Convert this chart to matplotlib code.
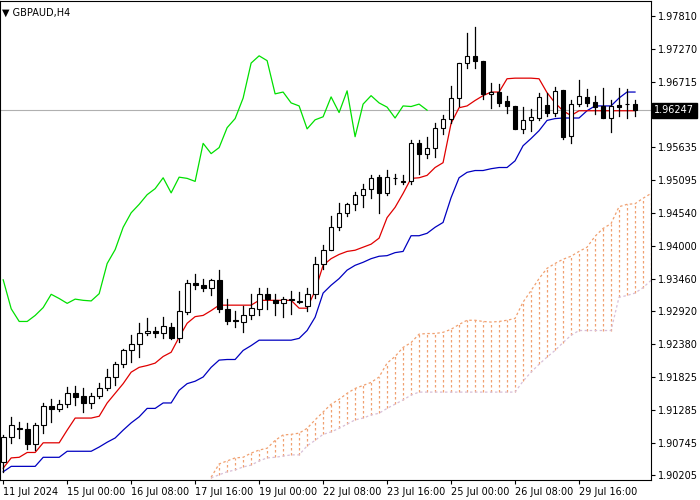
import matplotlib
matplotlib.use("Agg")
import matplotlib.pyplot as plt
import numpy as np

opens = [1.9042,1.9084,1.9097,1.9097,1.9072,1.9104,1.9135,1.9130,1.9138,1.9157,
         1.9152,1.9140,1.9152,1.9165,1.9183,1.9204,1.9227,1.9237,1.9256,1.9260,
         1.9256,1.9265,1.9247,1.9291,1.9338,1.9335,1.9331,1.9344,1.9296,1.9277,
         1.9274,1.9285,1.9296,1.9320,1.9310,1.9305,1.9313,1.9308,1.9300,1.9321,
         1.9371,1.9393,1.9431,1.9455,1.9469,1.9485,1.9495,1.9514,1.9487,1.9513,
         1.9506,1.9507,1.9570,1.9553,1.9563,1.9596,1.9611,1.9645,1.9703,1.9715,
         1.9707,1.9652,1.9655,1.9640,1.9632,1.9594,1.9609,1.9612,1.9634,1.9621,
         1.9658,1.9582,1.9635,1.9647,1.9639,1.9632,1.9612,1.9634,1.9636,1.9636]
highs = [1.9087,1.9117,1.9108,1.9107,1.9107,1.9140,1.9146,1.9145,1.9166,1.9168,
         1.9165,1.9157,1.9173,1.9196,1.9208,1.9230,1.9252,1.9272,1.9280,1.9265,
         1.9283,1.9272,1.9326,1.9343,1.9354,1.9346,1.9346,1.9361,1.9313,1.9293,
         1.9300,1.9321,1.9331,1.9331,1.9321,1.9315,1.9326,1.9323,1.9330,1.9382,
         1.9401,1.9450,1.9472,1.9472,1.9489,1.9503,1.9517,1.9517,1.9526,1.9519,
         1.9518,1.9576,1.9575,1.9580,1.9603,1.9617,1.9665,1.9703,1.9753,1.9763,
         1.9707,1.9670,1.9669,1.9649,1.9632,1.9630,1.9627,1.9654,1.9654,1.9664,
         1.9658,1.9641,1.9675,1.9660,1.9649,1.9662,1.9641,1.9662,1.9660,1.9641]
lows = [1.9026,1.9074,1.9082,1.9064,1.9062,1.9090,1.9108,1.9126,1.9133,1.9136,
        1.9125,1.9132,1.9149,1.9161,1.9170,1.9199,1.9208,1.9216,1.9252,1.9250,
        1.9247,1.9246,1.9241,1.9288,1.9328,1.9325,1.9318,1.9290,1.9270,1.9265,
        1.9257,1.9279,1.9285,1.9296,1.9285,1.9283,1.9288,1.9305,1.9293,1.9314,
        1.9362,1.9393,1.9426,1.9450,1.9459,1.9464,1.9480,1.9455,1.9484,1.9503,
        1.9502,1.9503,1.9520,1.9546,1.9547,1.9586,1.9603,1.9632,1.9695,1.9695,
        1.9644,1.9629,1.9632,1.9621,1.9594,1.9587,1.9591,1.9608,1.9616,1.9616,
        1.9577,1.9570,1.9632,1.9632,1.9619,1.9612,1.9589,1.9616,1.9612,1.9616]
closes = [1.9084,1.9104,1.9098,1.9072,1.9104,1.9135,1.9130,1.9138,1.9157,1.9150,
          1.9140,1.9152,1.9165,1.9183,1.9204,1.9227,1.9237,1.9256,1.9260,1.9256,
          1.9267,1.9247,1.9293,1.9338,1.9335,1.9331,1.9344,1.9296,1.9275,1.9275,
          1.9285,1.9298,1.9320,1.9313,1.9305,1.9312,1.9310,1.9309,1.9321,1.9371,
          1.9394,1.9431,1.9455,1.9469,1.9485,1.9495,1.9513,1.9488,1.9514,1.9512,
          1.9507,1.9570,1.9553,1.9563,1.9596,1.9611,1.9645,1.9703,1.9715,1.9707,
          1.9652,1.9655,1.9637,1.9632,1.9594,1.9609,1.9614,1.9647,1.9621,1.9657,
          1.9581,1.9635,1.9649,1.9637,1.9630,1.9612,1.9632,1.9631,1.9635,1.9625]

tenkan = [1.9032,1.9049,1.9050,1.9058,1.9058,1.9074,1.9074,1.9074,1.9095,1.9115,
          1.9115,1.9115,1.9118,1.9140,1.9156,1.9172,1.9191,1.9199,1.9202,1.9206,
          1.9217,1.9224,1.9249,1.9272,1.9283,1.9285,1.9293,1.9302,1.9302,1.9302,
          1.9302,1.9302,1.9310,1.9310,1.9310,1.9310,1.9310,1.9297,1.9297,1.9326,
          1.9368,1.9379,1.9386,1.9391,1.9393,1.9398,1.9403,1.9413,1.9447,1.9464,
          1.9487,1.9512,1.9513,1.9517,1.9530,1.9538,1.9603,1.9629,1.9632,1.9641,
          1.9649,1.9655,1.9655,1.9677,1.9678,1.9678,1.9678,1.9677,1.9654,1.9637,
          1.9624,1.9616,1.9624,1.9624,1.9624,1.9624,1.9624,1.9624,1.9624,1.9624]
kijun = [1.9026,1.9035,1.9035,1.9035,1.9035,1.9050,1.9050,1.9050,1.9060,1.9060,
         1.9060,1.9060,1.9067,1.9075,1.9082,1.9095,1.9107,1.9117,1.9131,1.9131,
         1.9140,1.9140,1.9161,1.9172,1.9176,1.9183,1.9199,1.9211,1.9212,1.9212,
         1.9227,1.9235,1.9244,1.9244,1.9244,1.9244,1.9244,1.9247,1.9260,1.9282,
         1.9322,1.9335,1.9346,1.9360,1.9368,1.9373,1.9379,1.9383,1.9384,1.9389,
         1.9391,1.9417,1.9417,1.9421,1.9431,1.9439,1.9480,1.9513,1.9522,1.9525,
         1.9525,1.9528,1.9530,1.9530,1.9541,1.9566,1.9578,1.9591,1.9608,1.9611,
         1.9612,1.9612,1.9612,1.9624,1.9632,1.9632,1.9632,1.9645,1.9655,1.9655]
span_a = [1.9017,1.9039,1.9044,1.9049,1.9050,1.9057,1.9062,1.9065,1.9078,1.9087,
          1.9088,1.9090,1.9098,1.9112,1.9125,1.9138,1.9146,1.9156,1.9164,1.9169,
          1.9174,1.9183,1.9206,1.9217,1.9232,1.9240,1.9254,1.9255,1.9255,1.9257,
          1.9262,1.9270,1.9277,1.9277,1.9275,1.9274,1.9275,1.9277,1.9280,1.9307,
          1.9326,1.9346,1.9363,1.9371,1.9378,1.9383,1.9391,1.9398,1.9416,1.9429,
          1.9437,1.9465,1.9469,1.9470,1.9479,1.9487]
span_b = [1.9016,1.9021,1.9026,1.9029,1.9034,1.9037,1.9044,1.9049,1.9050,1.9052,
          1.9054,1.9054,1.9069,1.9078,1.9088,1.9092,1.9098,1.9105,1.9112,1.9115,
          1.9120,1.9123,1.9131,1.9138,1.9145,1.9153,1.9158,1.9158,1.9158,1.9158,
          1.9158,1.9158,1.9158,1.9158,1.9158,1.9158,1.9158,1.9158,1.9158,1.9176,
          1.9191,1.9204,1.9216,1.9227,1.9240,1.9252,1.9260,1.9260,1.9260,1.9260,
          1.9260,1.9315,1.9318,1.9322,1.9331,1.9343]
cloud_start = 26
chikou_shift = 26

y_ticks = [1.97810,1.97270,1.96715,1.95635,1.95095,1.94540,1.94000,1.93460,
           1.92920,1.92380,1.91825,1.91285,1.90745,1.90205]
x_tick_pos = [0,8,16,24,32,40,48,56,64,72]
x_tick_labels = ["11 Jul 2024","15 Jul 00:00","16 Jul 08:00","17 Jul 16:00","19 Jul 00:00",
                 "22 Jul 08:00","23 Jul 16:00","25 Jul 00:00","26 Jul 08:00","29 Jul 16:00"]
last_price = 1.96247
title = "GBPAUD,H4"

fig = plt.figure(figsize=(7,5), dpi=100)
ax = fig.add_axes([0.0, 0.04, 0.93, 0.958])
n = len(closes)
x = np.arange(n)

cloud_col = "#f0a070"
cx = np.arange(cloud_start, cloud_start+len(span_a))
for xi, a, b in zip(cx, span_a, span_b):
    ax.plot([xi, xi], [min(a,b), max(a,b)], color=cloud_col, lw=0.9, ls=(0,(2,2)), zorder=1)
ax.plot(cx, span_a, color=cloud_col, lw=0.9, ls=(0,(2,2)), zorder=1)
ax.plot(cx, span_b, color="#d8bfd8", lw=0.9, ls=(0,(2,2)), zorder=1)

ax.axhline(last_price, color="#b0b0b0", lw=0.8, zorder=1)

ax.plot(x[:n-chikou_shift], closes[chikou_shift:], color="#00e000", lw=0.9, zorder=2)
ax.plot(x, kijun, color="#0000c0", lw=0.9, zorder=2)
ax.plot(x, tenkan, color="#e00000", lw=0.9, zorder=2)

w = 0.6
for i in range(n):
    o, h, l, c = opens[i], highs[i], lows[i], closes[i]
    ax.plot([i, i], [l, h], color="black", lw=0.9, zorder=3)
    bottom = min(o, c); height = max(abs(c-o), 0.00006)
    fc = "white" if c >= o else "black"
    ax.add_patch(plt.Rectangle((i-w/2, bottom), w, height, facecolor=fc,
                               edgecolor="black", lw=0.8, zorder=4))

ax.set_xlim(-0.4, 81.0)
ax.set_ylim(1.90124, 1.98058)
ax.yaxis.tick_right()
ax.set_yticks(y_ticks)
ax.set_yticklabels([f"{v:.5f}" for v in y_ticks], fontsize=7)
ax.set_xticks(x_tick_pos)
ax.set_xticklabels(x_tick_labels, fontsize=7, ha="left")
ax.tick_params(axis="both", length=3, width=0.8, pad=2, colors="black")
for s in ax.spines.values():
    s.set_linewidth(0.8)
ax.text(1.005, last_price, "1.96247", transform=ax.get_yaxis_transform(),
        fontsize=7, color="white", va="center", ha="left",
        bbox=dict(boxstyle="square,pad=0.25", fc="black", ec="black"), zorder=10, clip_on=False)
ax.text(0.003, 0.985, "\u25bc " + title, transform=ax.transAxes, fontsize=7, va="top", ha="left")

fig.savefig("out.png", dpi=100)
